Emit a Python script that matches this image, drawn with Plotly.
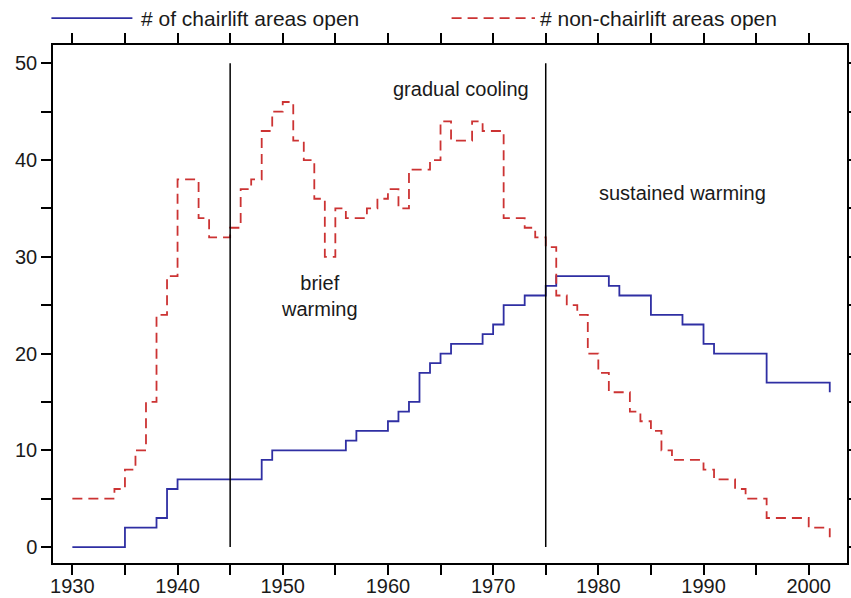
'''
    Step chart of ski areas open per year, chairlift vs non-chairlift,
    with the climate periods marked by vertical lines.
'''

import plotly.graph_objects as go

# year at which the count changes, and the count from that year on
chair_years = [1930, 1935, 1938, 1939, 1940, 1948, 1949, 1956, 1957, 1960,
               1961, 1962, 1963, 1964, 1965, 1966, 1969, 1970, 1971, 1973,
               1975, 1976, 1981, 1982, 1985, 1988, 1990, 1991, 1996, 2002]
chair_open = [0, 2, 3, 6, 7, 9, 10, 11, 12, 13,
              14, 15, 18, 19, 20, 21, 22, 23, 25, 26,
              27, 28, 27, 26, 24, 23, 21, 20, 17, 16]

nonchair_years = [1930, 1934, 1935, 1936, 1937, 1938, 1939, 1940, 1942, 1943,
                  1945, 1946, 1947, 1948, 1949, 1950, 1951, 1952, 1953, 1954,
                  1955, 1956, 1958, 1959, 1960, 1961, 1962, 1964, 1965, 1966,
                  1968, 1969, 1971, 1973, 1974, 1975, 1976, 1977, 1978, 1979,
                  1980, 1981, 1983, 1984, 1985, 1986, 1987, 1990, 1991, 1993,
                  1994, 1996, 2000, 2002]
nonchair_open = [5, 6, 8, 10, 15, 24, 28, 38, 34, 32,
                 33, 37, 38, 43, 45, 46, 42, 40, 36, 30,
                 35, 34, 35, 36, 37, 35, 39, 40, 44, 42,
                 44, 43, 34, 33, 32, 31, 26, 25, 24, 20,
                 18, 16, 14, 13, 12, 10, 9, 8, 7, 6,
                 5, 3, 2, 1]

period_breaks = [1945, 1975]
period_labels = ['brief<br>warming', 'gradual cooling', 'sustained warming']
label_x = [1953.5, 1966.9, 1988.0]
label_y = [25.9, 47.35, 36.6]

legend_names = ['# of chairlift areas open', '# non-chairlift areas open']

x_ticks = list(range(1930, 2001, 5))
y_ticks = list(range(0, 51, 5))

BLUE = '#2F2FA3'
RED = '#CC3333'
TEXT = '#1a1a1a'
FONT = 'Arial, Liberation Sans, sans-serif'

fig = go.Figure()

fig.add_trace(go.Scatter(
    x=chair_years, y=chair_open, mode='lines', line_shape='hv',
    name=legend_names[0], showlegend=False,
    line=dict(color=BLUE, width=1.8)))

fig.add_trace(go.Scatter(
    x=nonchair_years, y=nonchair_open, mode='lines', line_shape='hv',
    name=legend_names[1], showlegend=False,
    line=dict(color=RED, width=1.8, dash='10px,6px')))

# period boundaries
for yr in period_breaks:
    fig.add_shape(type='line', xref='x', yref='y', x0=yr, x1=yr, y0=0, y1=50,
                  line=dict(color='black', width=1.5))

for txt, lx, ly in zip(period_labels, label_x, label_y):
    fig.add_annotation(x=lx, y=ly, text=txt, showarrow=False,
                       font=dict(size=20, color=TEXT),
                       xanchor='center', yanchor='middle')

# legend drawn above the frame
fig.add_shape(type='line', xref='paper', yref='paper', x0=-0.002, x1=0.1,
              y0=1.052, y1=1.052, line=dict(color=BLUE, width=1.8))
fig.add_shape(type='line', xref='paper', yref='paper', x0=0.502, x1=0.607,
              y0=1.052, y1=1.052, line=dict(color=RED, width=1.8, dash='10px,6px'))
fig.add_annotation(x=0.108, y=1.052, xref='paper', yref='paper',
                   text=legend_names[0], showarrow=False, xanchor='left',
                   yanchor='middle', font=dict(size=21, color=TEXT))
fig.add_annotation(x=0.611, y=1.052, xref='paper', yref='paper',
                   text=legend_names[1], showarrow=False, xanchor='left',
                   yanchor='middle', font=dict(size=21, color=TEXT))

fig.update_xaxes(
    range=[1928.16, 2003.64], tickvals=x_ticks,
    ticktext=[str(v) if v % 10 == 0 else '' for v in x_ticks],
    ticks='outside', ticklen=10, tickwidth=1.5, tickcolor='black',
    ticklabelstandoff=-6,
    showline=True, linecolor='black', linewidth=1.5, mirror='ticks',
    showgrid=False, zeroline=False, automargin=False,
    tickfont=dict(size=20, color=TEXT))

fig.update_yaxes(
    range=[-1.65, 51.89], tickvals=y_ticks,
    ticktext=[str(v) if v % 10 == 0 else '' for v in y_ticks],
    ticks='outside', ticklen=10, tickwidth=1.5, tickcolor='black',
    showline=True, linecolor='black', linewidth=1.5, mirror='ticks',
    showgrid=False, zeroline=False, automargin=False,
    tickfont=dict(size=20, color=TEXT))

fig.update_layout(
    width=851, height=598,
    margin=dict(l=53, r=4, t=45, b=35, autoexpand=False),
    paper_bgcolor='white', plot_bgcolor='white',
    font=dict(family=FONT),
    showlegend=False)

# drop the page's default body margin so the figure sits at the window corner
fig.write_html('out.html', config={'displayModeBar': False},
               post_script="document.body.style.margin = '0';")
